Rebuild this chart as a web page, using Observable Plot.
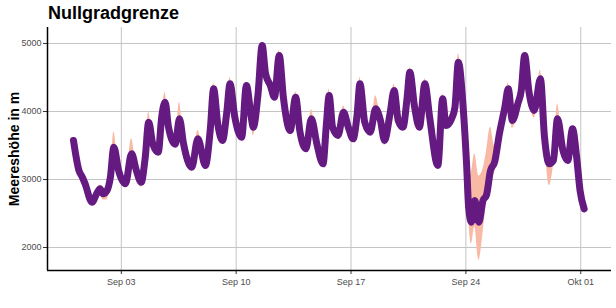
<!DOCTYPE html>
<html>
<head>
<meta charset="utf-8">
<script src="https://cdn.jsdelivr.net/npm/d3@7"></script>
<script src="https://cdn.jsdelivr.net/npm/@observablehq/plot@0.6"></script>
<style>
  html, body { margin: 0; padding: 0; background: #fff; }
  #wrap { position: relative; width: 616px; height: 308px; font-family: "Liberation Sans", Arial, sans-serif; }
  #title { position: absolute; left: 48px; top: 3px; font-size: 18px; font-weight: bold; color: #000; line-height: 1.15; }
</style>
</head>
<body>
<div id="wrap"><div id="title">Nullgradgrenze</div></div>
<script>
// hours since 2023-08-31 00:00
const hours = [2,10,15,19,29,37,41,45,51,56,61,68,78,87,94,101,107,112,118,126,131,136,141,151,157,163,175,184,195,202,207,213,220,226,231,238,248,255,262,265,272,278,283,290,296,303,309,319,327,333,342,350,358,367,372,376,381,389,397,404,411,417,421,428,436,444,451,457,465,471,477,484,490,494,501,508,516,523,535,542,547,555,560,565,572,577,580,584,589,595,601,606,612,618,625,633,638,644,652,657,662,668,676,685,691,698,704,710,718,725,732,738,743,749];
const values = [3574,3132,3034,2937,2667,2813,2863,2790,2838,3034,3475,3132,2937,3378,3132,2960,3328,3843,3525,3402,3916,4137,3769,3520,3892,3525,3181,3598,3206,3721,4334,3819,3574,3966,4407,3916,3622,4382,3916,3769,4260,4970,4554,4382,4211,4824,4211,3721,4211,3721,3451,3892,3525,3230,3819,4235,3769,3647,3990,3769,3598,3966,4407,3843,3696,4040,3868,3574,3966,4309,3868,3769,4200,4578,4063,3769,4407,3916,3206,4186,3794,3892,4063,4725,4063,3230,2593,2373,2691,2373,2691,2765,3132,3255,3672,4063,4334,3868,4113,4309,4824,4309,4015,4481,3622,3230,3279,3892,3426,3279,3745,3328,2838,2569];
const bandLow = [3540,3100,3000,2900,2640,2760,2800,2700,2700,2950,3420,3100,2880,3340,3100,2880,3300,3800,3490,3370,3880,4100,3740,3490,3860,3490,3150,3560,3150,3690,4300,3790,3530,3930,4370,3880,3590,4350,3880,3640,4230,4940,4520,4350,4180,4790,4180,3690,4180,3690,3420,3860,3490,3200,3790,4200,3740,3590,3960,3740,3560,3930,4370,3810,3660,4000,3830,3500,3930,4270,3830,3730,4170,4540,4030,3730,4370,3880,3170,4150,3760,3860,4030,4690,4030,3150,2450,2050,2300,1810,2200,2650,3000,3100,3600,4030,4300,3750,4000,4270,4790,4270,3900,4440,3590,2910,3200,3860,3390,3250,3710,3300,2800,2540];
const bandHigh = [3620,3160,3060,2960,2700,2880,2920,2830,2880,3080,3700,3160,2960,3600,3160,2990,3360,3990,3550,3430,3950,4280,3800,3550,4137,3550,3200,3720,3230,3750,4420,3850,3600,4000,4500,3940,3650,4420,3940,3800,4290,5000,4580,4410,4240,4900,4240,3750,4290,3750,3480,4030,3550,3260,3850,4330,3800,3680,4080,3800,3630,4000,4500,3870,3720,4230,3900,3600,4000,4400,3900,3800,4230,4650,4090,3800,4480,3940,3240,4260,3830,3920,4090,4850,4090,3260,3000,3100,3380,3050,3150,3400,3770,3500,3710,4090,4420,3900,4140,4340,4860,4340,4050,4610,3700,3260,3310,4113,3460,3310,3780,3360,2870,2600];
const yTicks = [2000, 3000, 4000, 5000];
const xTickDates = ["2023-09-03", "2023-09-10", "2023-09-17", "2023-09-24", "2023-10-01"];
const xTickLabels = ["Sep 03", "Sep 10", "Sep 17", "Sep 24", "Okt 01"];
const yLabel = "Meereshöhe in m";

const base = Date.UTC(2023, 7, 31);
const data = hours.map((h, i) => ({
  t: new Date(base + h * 3600e3),
  v: values[i], lo: bandLow[i], hi: bandHigh[i]
}));
const xTicks = xTickDates.map(s => new Date(s + "T00:00:00Z"));
const xDomain = [new Date(base - 36 * 3600e3), new Date(base + 789 * 3600e3)];
const yDomain = [1662, 5235];

const chart = Plot.plot({
  width: 616,
  height: 308,
  marginLeft: 47,
  marginRight: 5,
  marginTop: 27,
  marginBottom: 38,
  style: { fontFamily: "'Liberation Sans', Arial, sans-serif", background: "transparent" },
  x: { type: "utc", domain: xDomain },
  y: { domain: yDomain },
  marks: [
    Plot.ruleY(yTicks, { stroke: "#c4c4c4", strokeWidth: 1 }),
    Plot.ruleX(xTicks, { stroke: "#c4c4c4", strokeWidth: 1 }),
    Plot.areaY(data, { x: "t", y1: "lo", y2: "hi", fill: "#f8b9a5", curve: "monotone-x" }),
    Plot.line(data, { x: "t", y: "v", stroke: "#641a80", strokeWidth: 7, curve: "monotone-x", strokeLinejoin: "round", strokeLinecap: "round" }),
    Plot.axisY({ ticks: yTicks, tickFormat: d => String(d), tickSize: 4, tickPadding: 2, fontSize: 9, label: null, color: "#4d4d4d", stroke: "#333" }),
    Plot.axisX({ ticks: xTicks, tickFormat: (d, i) => xTickLabels[i], tickSize: 4, tickPadding: 4, fontSize: 9, label: null, color: "#4d4d4d", stroke: "#333" }),
    Plot.ruleX([xDomain[0]], { stroke: "#000", strokeWidth: 1.5 }),
    Plot.ruleY([yDomain[0]], { stroke: "#000", strokeWidth: 1.5 }),
    Plot.text([yLabel], { text: d => d, frameAnchor: "left", rotate: -90, dx: -33, fontSize: 14, fontWeight: "bold", fill: "#000", lineAnchor: "middle", textAnchor: "middle" })
  ]
});
document.getElementById("wrap").appendChild(chart);
chart.style.position = "absolute";
chart.style.left = "0";
chart.style.top = "0";
</script>
</body>
</html>
